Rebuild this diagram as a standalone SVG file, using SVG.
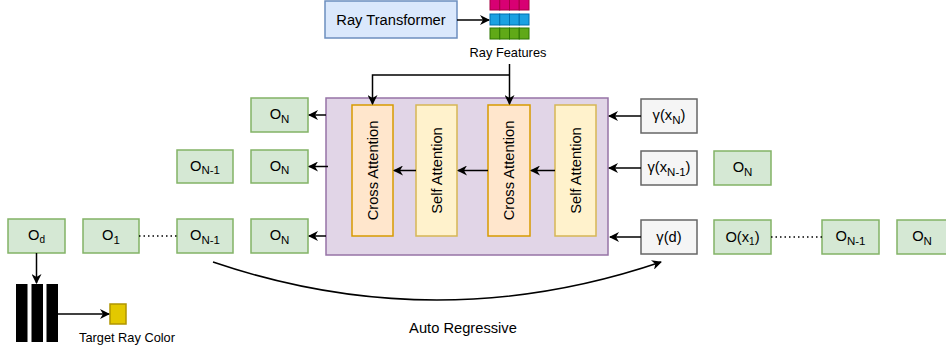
<svg xmlns="http://www.w3.org/2000/svg" width="946" height="349" viewBox="0 0 946 349">
<defs>
<marker id="arr" viewBox="0 0 10 10" refX="9" refY="5" markerWidth="10" markerHeight="10" markerUnits="userSpaceOnUse" orient="auto">
<path d="M0,0 L10,5 L0,10 L3,5 Z" fill="#000"/>
</marker>
<style>
text{font-family:"Liberation Sans",Arial,sans-serif;fill:#000}
.t{font-size:14.7px;text-anchor:middle}
.s{font-size:12.8px;text-anchor:middle}
.sub{font-size:11.5px}
.g rect{fill:#d5e8d4;stroke:#82b366;stroke-width:1.5}
.gr rect{fill:#f5f5f5;stroke:#666666;stroke-width:1.5}
.ca{fill:#ffe6cc;stroke:#d79b00;stroke-width:1.5}
.sa{fill:#fff2cc;stroke:#d6b656;stroke-width:1.5}
.c{fill:none;stroke:#000;stroke-width:1.5}
.d{fill:none;stroke:#000;stroke-width:1.5;stroke-dasharray:1.5 3}
</style>
</defs>

<g id="ray-transformer">
<rect x="325" y="1" width="132" height="37" fill="#dae8fc" stroke="#6c8ebf" stroke-width="1.5"/>
<text class="t" x="391" y="24.5">Ray Transformer</text>
</g>

<g id="ray-features">
<g fill="#d80073" stroke="#a50040" stroke-width="1">
<rect x="490" y="-1" width="9.75" height="11"/><rect x="499.75" y="-1" width="9.75" height="11"/><rect x="509.5" y="-1" width="9.75" height="11"/><rect x="519.25" y="-1" width="9.75" height="11"/>
</g>
<g fill="#1ba1e2" stroke="#006eaf" stroke-width="1">
<rect x="490" y="14" width="9.75" height="11"/><rect x="499.75" y="14" width="9.75" height="11"/><rect x="509.5" y="14" width="9.75" height="11"/><rect x="519.25" y="14" width="9.75" height="11"/>
</g>
<g fill="#60a917" stroke="#2d7600" stroke-width="1">
<rect x="490" y="28" width="9.75" height="11"/><rect x="499.75" y="28" width="9.75" height="11"/><rect x="509.5" y="28" width="9.75" height="11"/><rect x="519.25" y="28" width="9.75" height="11"/>
</g>
<text class="s" x="508" y="57">Ray Features</text>
</g>

<g id="decoder">
<rect x="326" y="98" width="282" height="157" fill="#e1d5e7" stroke="#9673a6" stroke-width="1.5"/>
</g>
<g id="cross-attention-1">
<rect class="ca" x="352" y="105" width="41" height="131"/>
<text class="t" transform="translate(372.5,170.5) rotate(-90)" x="0" y="5">Cross Attention</text>
</g>
<g id="self-attention-1">
<rect class="sa" x="416" y="105" width="41" height="131"/>
<text class="t" transform="translate(436.5,170.5) rotate(-90)" x="0" y="5">Self Attention</text>
</g>
<g id="cross-attention-2">
<rect class="ca" x="488" y="105" width="42" height="131"/>
<text class="t" transform="translate(509,170.5) rotate(-90)" x="0" y="5">Cross Attention</text>
</g>
<g id="self-attention-2">
<rect class="sa" x="555" y="105" width="41" height="131"/>
<text class="t" transform="translate(575.5,170.5) rotate(-90)" x="0" y="5">Self Attention</text>
</g>

<g id="o-n-row1" class="g"><rect x="251" y="98" width="57" height="34"/><text class="t" x="279.5" y="119">O<tspan class="sub" dy="3.5">N</tspan></text></g>
<g id="o-n-row2" class="g"><rect x="251" y="150" width="57" height="33"/><text class="t" x="279.5" y="170.5">O<tspan class="sub" dy="3.5">N</tspan></text></g>
<g id="o-n1-row2" class="g"><rect x="177" y="150" width="56" height="33"/><text class="t" x="205" y="170.5">O<tspan class="sub" dy="3.5">N-1</tspan></text></g>
<g id="o-n-row3" class="g"><rect x="251" y="219" width="57" height="34"/><text class="t" x="279.5" y="240">O<tspan class="sub" dy="3.5">N</tspan></text></g>
<g id="o-n1-row3" class="g"><rect x="177" y="219" width="56" height="34"/><text class="t" x="205" y="240">O<tspan class="sub" dy="3.5">N-1</tspan></text></g>
<g id="o-1" class="g"><rect x="83" y="219" width="56" height="34"/><text class="t" x="111" y="240">O<tspan class="sub" dy="3.5">1</tspan></text></g>
<g id="o-d" class="g"><rect x="8" y="219" width="57" height="34"/><text class="t" x="36.5" y="240">O<tspan style="font-size:10px" dy="3">d</tspan></text></g>

<g id="gamma-xn" class="gr"><rect x="641" y="99" width="56" height="34"/><text class="t" x="669" y="120">γ(x<tspan class="sub" dy="3.5">N</tspan><tspan dy="-3.5">)</tspan></text></g>
<g id="gamma-xn1" class="gr"><rect x="641" y="151" width="56" height="34"/><text class="t" x="669" y="172">γ(x<tspan class="sub" dy="3.5">N-1</tspan><tspan dy="-3.5">)</tspan></text></g>
<g id="gamma-d" class="gr"><rect x="641" y="220" width="56" height="34"/><text class="t" x="669" y="242">γ(d)</text></g>

<g id="o-n-right-row2" class="g"><rect x="714" y="151" width="57" height="34"/><text class="t" x="742.5" y="172">O<tspan class="sub" dy="3.5">N</tspan></text></g>
<g id="o-x1" class="g"><rect x="714" y="220" width="57" height="34"/><text class="t" x="742.5" y="242">O(x<tspan style="font-size:10px" dy="3">1</tspan><tspan dy="-3">)</tspan></text></g>
<g id="o-n1-right" class="g"><rect x="822" y="220" width="57" height="34"/><text class="t" x="850.5" y="241">O<tspan class="sub" dy="3.5">N-1</tspan></text></g>
<g id="o-n-right-row3" class="g"><rect x="897" y="220" width="57" height="34"/><text class="t" x="922" y="241">O<tspan class="sub" dy="3.5">N</tspan></text></g>

<g id="mlp">
<rect x="16" y="284" width="11.5" height="58" fill="#000"/>
<rect x="31.5" y="284" width="11.5" height="58" fill="#000"/>
<rect x="46.5" y="284" width="11.5" height="58" fill="#000"/>
</g>
<g id="target-ray-color">
<rect x="110" y="304" width="16" height="20" fill="#e3c800" stroke="#b09500" stroke-width="1.5"/>
<text class="s" x="127" y="342">Target Ray Color</text>
</g>
<g id="auto-regressive-label">
<text class="t" x="463" y="333">Auto Regressive</text>
</g>

<g id="connectors">
<path class="c" d="M457,20 H489" marker-end="url(#arr)"/>
<path class="c" d="M509.5,64 V104" marker-end="url(#arr)"/>
<path class="c" d="M509.5,75 H372.5 V104" marker-end="url(#arr)"/>
<path class="c" d="M555,170.5 H531" marker-end="url(#arr)"/>
<path class="c" d="M488,170.5 H458" marker-end="url(#arr)"/>
<path class="c" d="M416,170.5 H394" marker-end="url(#arr)"/>
<path class="c" d="M326,115 H309" marker-end="url(#arr)"/>
<path class="c" d="M328,166.5 H309" marker-end="url(#arr)"/>
<path class="c" d="M326,236 H309" marker-end="url(#arr)"/>
<path class="c" d="M641,116 H609" marker-end="url(#arr)"/>
<path class="c" d="M641,168 H609" marker-end="url(#arr)"/>
<path class="c" d="M641,237 H610" marker-end="url(#arr)"/>
<path class="d" d="M139,236 H177"/>
<path class="d" d="M771,237 H822"/>
<path class="c" d="M36.5,253 V283" marker-end="url(#arr)"/>
<path class="c" d="M58,314 H109" marker-end="url(#arr)"/>
<path class="c" d="M213,262 Q437,338 661,262" marker-end="url(#arr)"/>
</g>
</svg>
